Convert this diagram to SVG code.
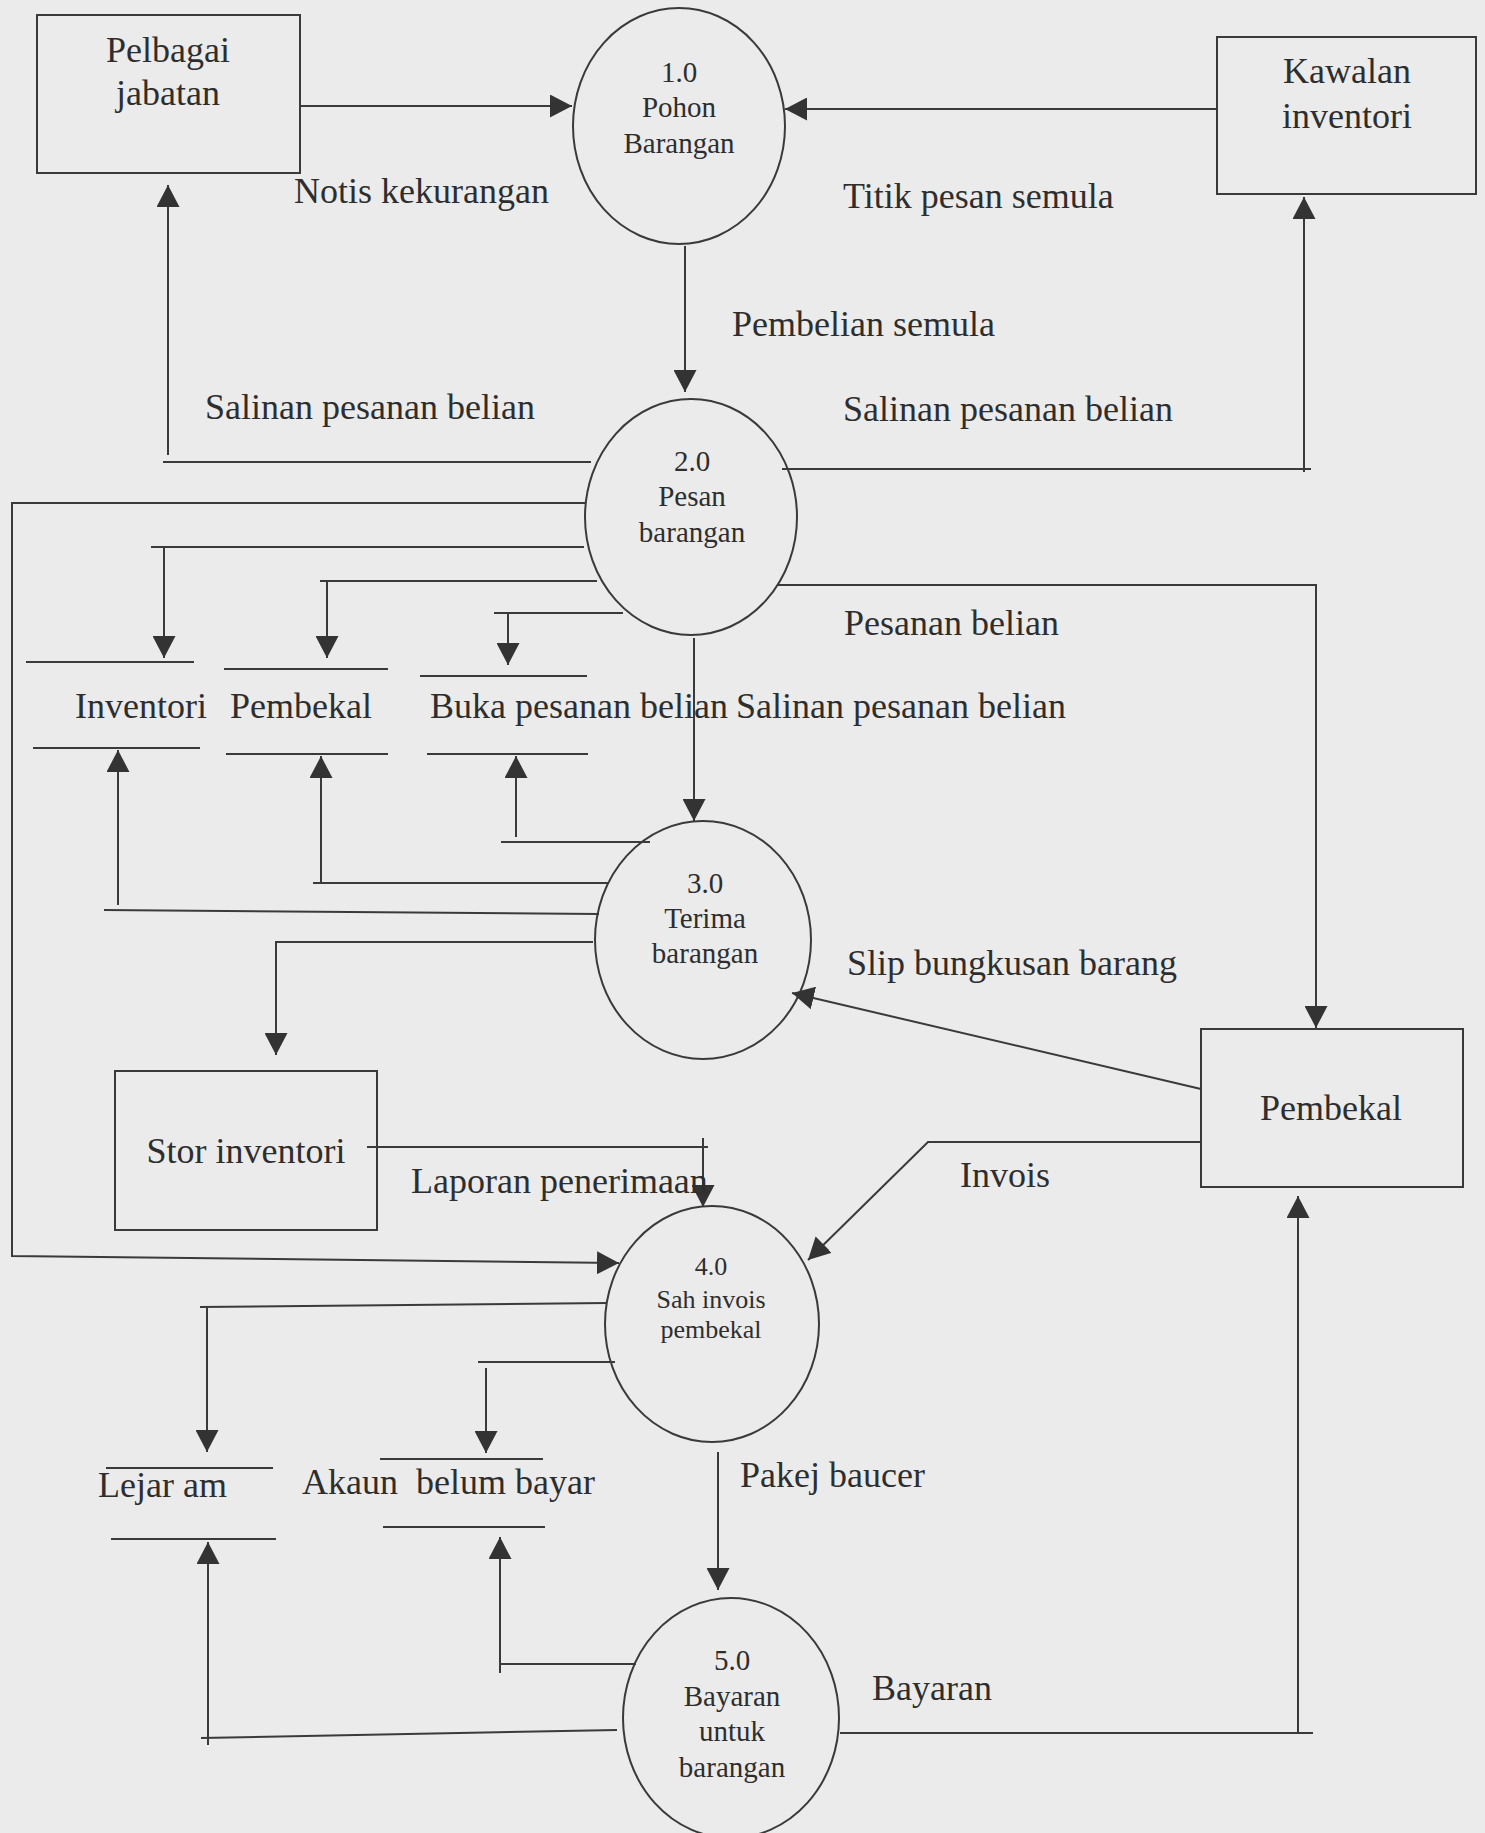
<svg xmlns="http://www.w3.org/2000/svg" width="1485" height="1833" viewBox="0 0 1485 1833">
<defs>
<marker id="ah" markerUnits="userSpaceOnUse" viewBox="0 0 22 23" refX="22" refY="11.5" markerWidth="22" markerHeight="23" orient="auto">
<path d="M0,0 L22,11.5 L0,23 z" fill="#333"/>
</marker>
</defs>
<style>
.ln{fill:none;stroke:#3a3a3a;stroke-width:2}
.ar{fill:none;stroke:#3a3a3a;stroke-width:2;marker-end:url(#ah)}
.nd{fill:none;stroke:#3a3a3a;stroke-width:2}
.t{font-family:"Liberation Serif","Times New Roman",serif;font-size:36px;fill:#2e2e2e;white-space:pre}
.c{font-family:"Liberation Serif","Times New Roman",serif;font-size:29px;fill:#2e2e2e;text-anchor:middle}
.c4{font-size:26px}
.m{text-anchor:middle}
</style>
<rect x="0" y="0" width="1485" height="1833" fill="#ebebeb"/>

<g id="n-pelbagai">
<rect class="nd" x="37" y="15" width="263" height="158"/>
<text class="t m" x="168" y="62">Pelbagai</text>
<text class="t m" x="168" y="105">jabatan</text>
</g>
<g id="n-kawalan">
<rect class="nd" x="1217" y="37" width="259" height="157"/>
<text class="t m" x="1347" y="83">Kawalan</text>
<text class="t m" x="1347" y="128">inventori</text>
</g>
<g id="n-stor">
<rect class="nd" x="115" y="1071" width="262" height="159"/>
<text class="t m" x="246" y="1163">Stor inventori</text>
</g>
<g id="n-pembekal-ext">
<rect class="nd" x="1201" y="1029" width="262" height="158"/>
<text class="t m" x="1331" y="1120">Pembekal</text>
</g>

<g id="p1">
<ellipse class="nd" cx="679" cy="126" rx="106" ry="118"/>
<text class="c" x="679" y="82">1.0</text>
<text class="c" x="679" y="117">Pohon</text>
<text class="c" x="679" y="153">Barangan</text>
</g>
<g id="p2">
<ellipse class="nd" cx="691" cy="517" rx="106" ry="118"/>
<text class="c" x="692" y="471">2.0</text>
<text class="c" x="692" y="506">Pesan</text>
<text class="c" x="692" y="542">barangan</text>
</g>
<g id="p3">
<ellipse class="nd" cx="703" cy="940" rx="108" ry="119"/>
<text class="c" x="705" y="893">3.0</text>
<text class="c" x="705" y="928">Terima</text>
<text class="c" x="705" y="963">barangan</text>
</g>
<g id="p4">
<ellipse class="nd" cx="712" cy="1324" rx="107" ry="118"/>
<text class="c c4" x="711" y="1275">4.0</text>
<text class="c c4" x="711" y="1308">Sah invois</text>
<text class="c c4" x="711" y="1338">pembekal</text>
</g>
<g id="p5">
<ellipse class="nd" cx="731" cy="1718" rx="108" ry="120"/>
<text class="c" x="732" y="1670">5.0</text>
<text class="c" x="732" y="1706">Bayaran</text>
<text class="c" x="732" y="1741">untuk</text>
<text class="c" x="732" y="1777">barangan</text>
</g>

<g id="ds-inventori">
<path class="ln" d="M26,662 H194 M33,748 H200"/>
<text class="t" x="75" y="718">Inventori</text>
</g>
<g id="ds-pembekal">
<path class="ln" d="M224,669 H388 M226,754 H388"/>
<text class="t" x="230" y="718">Pembekal</text>
</g>
<g id="ds-buka">
<path class="ln" d="M420,676 H587 M427,754 H588"/>
<text class="t" x="430" y="718">Buka pesanan belian</text>
</g>
<g id="ds-lejar">
<path class="ln" d="M106,1468 H273 M111,1539 H276"/>
<text class="t" x="98" y="1497">Lejar am</text>
</g>
<g id="ds-akaun">
<path class="ln" d="M380,1459 H543 M383,1527 H545"/>
<text class="t" x="302" y="1494">Akaun  belum bayar</text>
</g>

<g id="connectors">
<path class="ar" d="M300,106 H572"/>
<path class="ar" d="M1217,109 H785"/>
<path class="ar" d="M685,246 V392"/>
<path class="ln" d="M591,462 H163"/>
<path class="ar" d="M168,455 V185"/>
<path class="ln" d="M782,469 H1311"/>
<path class="ar" d="M1304,472 V197"/>
<path class="ar" d="M586,503 H12 V1256 L619,1263"/>
<path class="ln" d="M584,547 H151"/>
<path class="ar" d="M164,547 V658"/>
<path class="ln" d="M597,581 H320"/>
<path class="ar" d="M327,581 V658"/>
<path class="ln" d="M623,613 H494"/>
<path class="ar" d="M508,613 V665"/>
<path class="ar" d="M694,638 V821"/>
<path class="ar" d="M778,585 H1316 V1028"/>
<path class="ln" d="M650,842 H501"/>
<path class="ar" d="M516,837 V756"/>
<path class="ln" d="M608,883 H313"/>
<path class="ar" d="M321,883 V756"/>
<path class="ln" d="M599,914 L104,910"/>
<path class="ar" d="M118,905 V750"/>
<path class="ar" d="M593,942 H276 V1055"/>
<path class="ar" d="M1201,1089 L792,993"/>
<path class="ln" d="M367,1147 H708"/>
<path class="ar" d="M703,1138 V1207"/>
<path class="ar" d="M1201,1142 H928 L808,1260"/>
<path class="ln" d="M607,1303 L200,1307"/>
<path class="ar" d="M207,1307 V1452"/>
<path class="ln" d="M615,1362 H478"/>
<path class="ar" d="M486,1368 V1453"/>
<path class="ar" d="M718,1452 V1590"/>
<path class="ln" d="M617,1730 L201,1738"/>
<path class="ar" d="M208,1745 V1542"/>
<path class="ln" d="M636,1664 H500"/>
<path class="ar" d="M500,1673 V1537"/>
<path class="ln" d="M840,1733 H1313"/>
<path class="ar" d="M1298,1733 V1196"/>
</g>

<g id="labels">
<text class="t" x="294" y="203">Notis kekurangan</text>
<text class="t" x="843" y="208">Titik pesan semula</text>
<text class="t" x="732" y="336">Pembelian semula</text>
<text class="t" x="205" y="419">Salinan pesanan belian</text>
<text class="t" x="843" y="421">Salinan pesanan belian</text>
<text class="t" x="844" y="635">Pesanan belian</text>
<text class="t" x="736" y="718">Salinan pesanan belian</text>
<text class="t" x="847" y="975">Slip bungkusan barang</text>
<text class="t" x="411" y="1193">Laporan penerimaan</text>
<text class="t" x="960" y="1187">Invois</text>
<text class="t" x="740" y="1487">Pakej baucer</text>
<text class="t" x="872" y="1700">Bayaran</text>
</g>
</svg>
